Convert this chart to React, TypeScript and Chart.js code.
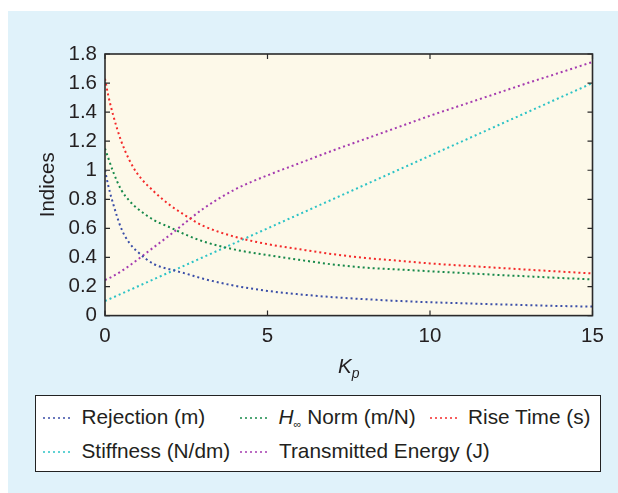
import React, { useEffect, useRef } from "react";
import { Chart, registerables } from "chart.js";

Chart.register(...registerables);

// ---- data ----
const kp = [0, 0.1, 0.25, 0.5, 0.75, 1, 1.5, 2, 2.5, 3, 4, 5, 6, 7, 8, 9, 10, 11, 12, 13, 14, 15];
const rejection = [1.0, 0.895, 0.77, 0.6, 0.5, 0.44, 0.355, 0.318, 0.288, 0.255, 0.205, 0.17, 0.146, 0.127, 0.113, 0.101, 0.092, 0.085, 0.078, 0.072, 0.066, 0.062];
const hinfNorm = [1.15, 1.085, 0.99, 0.865, 0.79, 0.737, 0.658, 0.607, 0.555, 0.512, 0.454, 0.416, 0.383, 0.352, 0.33, 0.318, 0.305, 0.293, 0.281, 0.27, 0.259, 0.249];
const riseTime = [1.63, 1.515, 1.38, 1.2, 1.07, 0.975, 0.855, 0.76, 0.685, 0.62, 0.542, 0.492, 0.456, 0.423, 0.397, 0.378, 0.359, 0.344, 0.33, 0.316, 0.303, 0.29];
const stiffness = [0.1, 0.11, 0.125, 0.15, 0.175, 0.2, 0.25, 0.3, 0.35, 0.4, 0.5, 0.6, 0.7, 0.8, 0.9, 1.0, 1.1, 1.2, 1.3, 1.4, 1.5, 1.6];
const transmittedEnergy = [0.245, 0.255, 0.272, 0.305, 0.343, 0.385, 0.47, 0.555, 0.645, 0.732, 0.868, 0.965, 1.05, 1.135, 1.215, 1.295, 1.375, 1.45, 1.525, 1.6, 1.672, 1.745];

const seriesLabels = ["Rejection (m)", "H∞ Norm (m/N)", "Rise Time (s)", "Stiffness (N/dm)", "Transmitted Energy (J)"];
const seriesColors = ["#3a4ea8", "#17894a", "#f42a2a", "#2cc3c6", "#a53bb0"];

const xTickValues = [0, 5, 10, 15];
const yTickLabels = ["0", "0.2", "0.4", "0.6", "0.8", "1", "1.2", "1.4", "1.6", "1.8"];

const FONT = "'Liberation Sans', Arial, Helvetica, sans-serif";
const TEXT = "#231f20";
const PANEL_BG = "#e0f2fa";
const PLOT_BG = "#fdf9e9";
const LEGEND_SIZE = 20.8;

const framePlugin = {
  id: "frameTicks",
  beforeDraw(chart: any) {
    const { ctx, chartArea: a } = chart;
    ctx.save();
    ctx.fillStyle = PLOT_BG;
    ctx.fillRect(a.left, a.top, a.right - a.left, a.bottom - a.top);
    ctx.restore();
  },
  afterDatasetsDraw(chart: any) {
    const { ctx, chartArea: a, scales } = chart;
    ctx.save();
    ctx.strokeStyle = "#2a2a2a";
    ctx.lineWidth = 1.6;
    ctx.strokeRect(a.left, a.top, a.right - a.left, a.bottom - a.top);
    ctx.lineWidth = 1.2;
    const tl = 5;
    ctx.beginPath();
    scales.x.ticks.forEach((t: any) => {
      const px = scales.x.getPixelForValue(t.value);
      ctx.moveTo(px, a.bottom);
      ctx.lineTo(px, a.bottom - tl);
      ctx.moveTo(px, a.top);
      ctx.lineTo(px, a.top + tl);
    });
    scales.y.ticks.forEach((t: any) => {
      const py = scales.y.getPixelForValue(t.value);
      ctx.moveTo(a.left, py);
      ctx.lineTo(a.left + tl, py);
      ctx.moveTo(a.right, py);
      ctx.lineTo(a.right - tl, py);
    });
    ctx.stroke();
    ctx.restore();
  },
};

const allSeries = [rejection, hinfNorm, riseTime, stiffness, transmittedEnergy];

function Sample({ color, left, top }: { color: string; left: number; top: number }) {
  return (
    <svg
      width={30}
      height={4}
      style={{ position: "absolute", left, top: top - 2, overflow: "visible" }}
    >
      <line x1={0} y1={2} x2={30} y2={2} stroke={color} strokeWidth={1.7} strokeDasharray="2 3" />
    </svg>
  );
}

function LegendText({ left, baseline, children }: { left: number; baseline: number; children: React.ReactNode }) {
  return (
    <div
      style={{
        position: "absolute",
        left,
        top: baseline - LEGEND_SIZE * 0.8465,
        fontFamily: FONT,
        fontSize: LEGEND_SIZE,
        lineHeight: `${LEGEND_SIZE}px`,
        color: TEXT,
        whiteSpace: "nowrap",
      }}
    >
      {children}
    </div>
  );
}

export default function App() {
  const canvasRef = useRef<HTMLCanvasElement | null>(null);

  useEffect(() => {
    const canvas = canvasRef.current;
    if (!canvas) return;
    const chart = new Chart(canvas, {
      type: "line",
      data: {
        datasets: allSeries.map((vals, i) => ({
          label: seriesLabels[i],
          data: kp.map((x, j) => ({ x, y: vals[j] })),
          borderColor: seriesColors[i],
          backgroundColor: seriesColors[i],
          borderWidth: 2,
          borderDash: [2, 3],
          borderCapStyle: "butt" as const,
          pointRadius: 0,
          fill: false,
          cubicInterpolationMode: "monotone" as const,
        })),
      },
      options: {
        responsive: false,
        animation: false,
        devicePixelRatio: 1,
        layout: { padding: { left: 0, top: 54, right: 25.5, bottom: 137.4 } },
        plugins: { legend: { display: false }, tooltip: { enabled: false }, title: { display: false } },
        scales: {
          x: {
            type: "linear",
            min: 0,
            max: 15,
            afterBuildTicks: (scale: any) => {
              scale.ticks = xTickValues.map((v) => ({ value: v }));
            },
            afterFit: (scale: any) => {
              scale.height = 40;
            },
            grid: { display: false, drawTicks: false },
            border: { display: false },
            ticks: {
              padding: 8,
              color: TEXT,
              font: { family: FONT, size: 20.5 },
              maxRotation: 0,
              callback: (v: any) => String(v),
            },
          },
          y: {
            type: "linear",
            min: 0,
            max: 1.8,
            afterBuildTicks: (scale: any) => {
              scale.ticks = yTickLabels.map((l) => ({ value: parseFloat(l) }));
            },
            afterFit: (scale: any) => {
              scale.width = 105;
            },
            grid: { display: false, drawTicks: false },
            border: { display: false },
            title: {
              display: true,
              text: "Indices",
              color: TEXT,
              font: { family: FONT, size: 20.5 },
              padding: { top: 36, bottom: 0 },
            },
            ticks: {
              padding: 8,
              color: TEXT,
              font: { family: FONT, size: 20.5 },
              callback: (v: any) => {
                const idx = yTickLabels.findIndex((l) => Math.abs(parseFloat(l) - Number(v)) < 1e-6);
                return idx >= 0 ? yTickLabels[idx] : "";
              },
            },
          },
        },
      },
      plugins: [framePlugin],
    } as any);
    return () => chart.destroy();
  }, []);

  return (
    <div style={{ position: "absolute", left: 0, top: 0, width: 618, height: 493, overflow: "hidden" }}>
      <div style={{ position: "absolute", left: 8, top: 11, width: 610, height: 482, background: PANEL_BG }} />
      <canvas
        ref={canvasRef}
        width={618}
        height={493}
        style={{ position: "absolute", left: 0, top: 0, width: 618, height: 493 }}
      />
      {/* x-axis title K_p */}
      <div
        style={{
          position: "absolute",
          left: 105,
          width: 487.5,
          top: 355.5,
          textAlign: "center",
          fontFamily: FONT,
          fontSize: 20.5,
          lineHeight: "20.5px",
          color: TEXT,
          fontStyle: "italic",
        }}
      >
        K<span style={{ fontSize: 14, position: "relative", top: 5 }}>p</span>
      </div>
      {/* legend */}
      <div
        style={{
          position: "absolute",
          left: 35,
          top: 395,
          width: 566,
          height: 77,
          boxSizing: "border-box",
          border: "1px solid #222",
          background: "#ffffff",
        }}
      />
      <Sample color={seriesColors[0]} left={43} top={418} />
      <LegendText left={81.5} baseline={425}>{seriesLabels[0]}</LegendText>
      <Sample color={seriesColors[1]} left={240} top={418} />
      <LegendText left={278.5} baseline={425}>
        <span style={{ fontStyle: "italic" }}>H</span>
        <span style={{ fontSize: 11, position: "relative", top: 4 }}>∞</span> Norm (m/N)
      </LegendText>
      <Sample color={seriesColors[2]} left={430} top={418} />
      <LegendText left={468} baseline={425}>{seriesLabels[2]}</LegendText>
      <Sample color={seriesColors[3]} left={43} top={451.5} />
      <LegendText left={81.5} baseline={458.5}>{seriesLabels[3]}</LegendText>
      <Sample color={seriesColors[4]} left={240} top={451.5} />
      <LegendText left={279} baseline={458.5}>{seriesLabels[4]}</LegendText>
    </div>
  );
}
